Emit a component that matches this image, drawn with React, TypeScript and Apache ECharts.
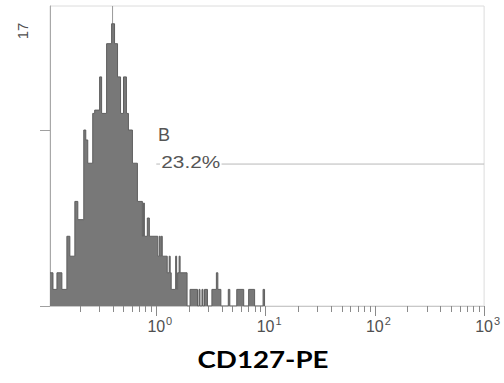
import React, { useEffect, useRef } from 'react';
import * as echarts from 'echarts';

// Histogram runs: left edge of each run (CD127-PE fluorescence) and the count held until the next edge
const binStarts = [
  0.1065, 0.1134, 0.1233, 0.1368, 0.152, 0.1618, 0.1798, 0.1914, 0.217, 0.2263,
  0.236, 0.262, 0.273, 0.303, 0.316, 0.351, 0.39, 0.415, 0.442, 0.471,
  0.501, 0.533, 0.556, 0.605, 0.672, 0.746, 0.762, 0.778, 0.828, 0.864,
  1.032, 1.065, 1.087, 1.11, 1.134, 1.259, 1.313, 1.34, 1.369, 1.504,
  1.536, 1.568, 1.618, 1.652, 1.913, 2.037, 2.383, 2.46, 2.512, 2.619,
  2.675, 2.76, 2.94, 3.228, 3.548, 3.66, 3.9, 4.56, 4.71, 5.45,
  6.31, 7.0, 7.94, 9.49, 9.79,
];
const counts = [
  2, 1, 2, 1, 4.2, 3, 6.3, 5.2, 10.6, 10,
  8.6, 11.6, 11.8, 13.8, 11.6, 15.8, 17, 15.8, 13.8, 11.6,
  13.8, 11.6, 10.6, 8.6, 6.3, 4.2, 6.2, 4.2, 5.3, 4.2,
  3, 4.2, 3, 4.2, 3, 2, 3, 2, 1, 3,
  1, 2, 3, 2, 0, 1, 0, 1, 0, 1,
  0, 1, 0, 1, 2, 1, 0, 1, 0, 1,
  0, 1, 0, 1, 0,
];
const decadeExponents = [0, 1, 2, 3];
const xRange = [0.1065, 1000];
const yMax = 18.07;
const yTicks = [0, 10.6];
const yMaxLabel = '17';
const gateRange = [1, 1000];
const gateLevel = 8.55;
const gateName = 'B';
const gatePercent = '23.2%';
const markerValue = 0.398;
const markerRange = [17, 18.07];
const axisTitle = 'CD127-PE';

const FONT = '"Liberation Sans", Arial, sans-serif';

export default function App() {
  const ref = useRef<HTMLDivElement>(null);
  useEffect(() => {
    if (!ref.current) return;
    const chart = echarts.init(ref.current, undefined, { renderer: 'svg' });
    const lx = (v: number) => Math.log10(v);
    const xMin = lx(xRange[0]);
    const xMax = lx(xRange[1]);
    const minorTicks: number[] = [];
    for (let n = -1; n <= 2; n++) {
      for (let k = 2; k <= 9; k++) {
        const v = lx(k) + n;
        if (v > xMin && v < xMax) minorTicks.push(v);
      }
    }
    const histData = binStarts.map((f, i) => [lx(f), counts[i]]);
    chart.setOption({
      animation: false,
      grid: { left: 50, right: 17, top: 6, bottom: 77, show: true, borderColor: '#dcdcdc', borderWidth: 1 },
      xAxis: [
        {
          type: 'value', min: xMin, max: xMax,
          axisLine: { show: true, onZero: false, lineStyle: { color: '#c8c8c8', width: 1 } },
          axisTick: { show: true, customValues: decadeExponents, length: 10, lineStyle: { color: '#8a8a8a' } },
          axisLabel: {
            show: true, customValues: decadeExponents, margin: 9,
            formatter: (v: number) => `{p|}{b|10}{s|${Math.round(v)}}`,
            rich: {
              p: { width: 8 },
              b: { fontSize: 16, fontFamily: FONT, color: '#505050', lineHeight: 19, verticalAlign: 'bottom' },
              s: { fontSize: 11, fontFamily: FONT, color: '#505050', lineHeight: 11, verticalAlign: 'top', width: 8 },
            },
          },
          splitLine: { show: false },
        },
        {
          type: 'value', min: xMin, max: xMax, position: 'bottom',
          axisLine: { show: false, onZero: false },
          axisTick: { show: true, customValues: minorTicks, length: 6, lineStyle: { color: '#8a8a8a' } },
          axisLabel: { show: false },
          splitLine: { show: false },
        },
      ],
      yAxis: {
        type: 'value', min: 0, max: yMax,
        axisLine: { show: true, onZero: false, lineStyle: { color: '#a8a8a8' } },
        axisTick: { show: true, customValues: yTicks, length: 10, lineStyle: { color: '#a0a0a0' } },
        axisLabel: { show: false },
        splitLine: { show: false },
      },
      series: [
        {
          type: 'line', step: 'end', data: histData, showSymbol: false, symbol: 'none',
          lineStyle: { color: '#5e5e5e', width: 1 },
          areaStyle: { color: '#787878', opacity: 1 },
          z: 3,
        },
        {
          type: 'line', data: [[lx(gateRange[0]), gateLevel], [lx(gateRange[1]), gateLevel]],
          showSymbol: false, symbol: 'none', lineStyle: { color: '#b8b8b8', width: 1 }, z: 2,
        },
        {
          type: 'line', data: [[lx(markerValue), markerRange[0]], [lx(markerValue), markerRange[1]]],
          showSymbol: false, symbol: 'none', lineStyle: { color: '#9a9a9a', width: 1 }, z: 2,
        },
      ],
      graphic: [
        {
          type: 'text', x: 22, y: 31, rotation: Math.PI / 2,
          style: { text: yMaxLabel, font: `15px ${FONT}`, fill: '#505050', align: 'center', verticalAlign: 'middle' },
        },
        {
          type: 'text', x: 158, y: 135,
          style: { text: gateName, font: `18px ${FONT}`, fill: '#555', align: 'left', verticalAlign: 'middle' },
        },
        {
          type: 'text', x: 160, y: 162, scaleX: 1.3,
          style: { text: gatePercent, font: `16px ${FONT}`, fill: '#555', align: 'left', verticalAlign: 'middle', backgroundColor: '#fff', padding: [0, 1, 0, 1] },
          z: 10,
        },
        {
          type: 'text', x: 263, y: 359, scaleX: 1.26,
          style: { text: axisTitle, font: `bold 22px Lato, "Open Sans", sans-serif`, fill: '#000', align: 'center', verticalAlign: 'middle' },
        },
      ],
    });
    return () => chart.dispose();
  }, []);
  return <div ref={ref} style={{ position: 'fixed', left: 0, top: 0, width: 504, height: 383, background: '#fff' }} />;
}
